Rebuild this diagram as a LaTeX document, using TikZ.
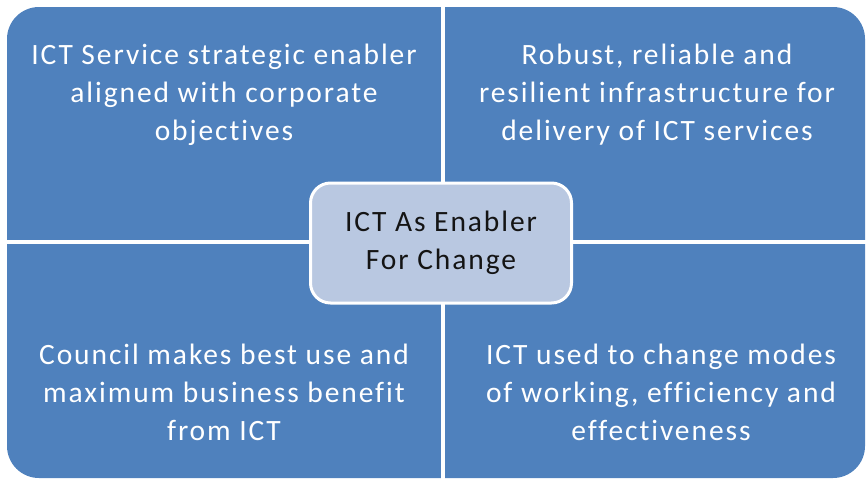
\documentclass[tikz,border=0pt]{standalone}
\usepackage{fontspec}
\setmainfont{Carlito}[LetterSpace=6.5,Ligatures=NoCommon]
\usepackage{tikz}
\usetikzlibrary{positioning}
\definecolor{quadblue}{HTML}{4F81BD}
\definecolor{hubfill}{HTML}{B9C8E1}
\definecolor{hubtext}{HTML}{141414}
\tikzset{
  quadtext/.style={text=white,align=center,font=\fontsize{29.5}{38}\selectfont,inner sep=0pt},
  hub/.style={draw=white,line width=3pt,fill=hubfill,rounded corners=20pt,
    minimum width=261pt,minimum height=120pt,align=center,text=hubtext,
    font=\fontsize{29.5}{38}\selectfont},
  split/.style={draw=white,line width=4pt},
}

\begin{document}
\begin{tikzpicture}[x=1pt,y=-1pt]
  \useasboundingbox (0,0) rectangle (866,479);
  % matrix background and the white cross
  \fill[quadblue,rounded corners=32pt] (7,7) rectangle (865,478);
  \draw[split] (443,0) -- (443,479);
  \draw[split] (0,242) -- (866,242);
  % the four quadrants
  \node[quadtext] (align) at (224,95) {ICT Service strategic enabler\\aligned with corporate\\objectives};
  \node[quadtext] (infra) at (657,95) {Robust, reliable and\\resilient infrastructure for\\delivery of ICT services};
  \node[quadtext] (usage) at (224,392) {Council makes best use and\\maximum business benefit\\from ICT};
  \node[quadtext] (modes) at (661,392) {ICT used to change modes\\of working, efficiency and\\effectiveness};
  % centre
  \node[hub] (enabler) at (441,243) {ICT As Enabler\\For Change};
\end{tikzpicture}
\end{document}
